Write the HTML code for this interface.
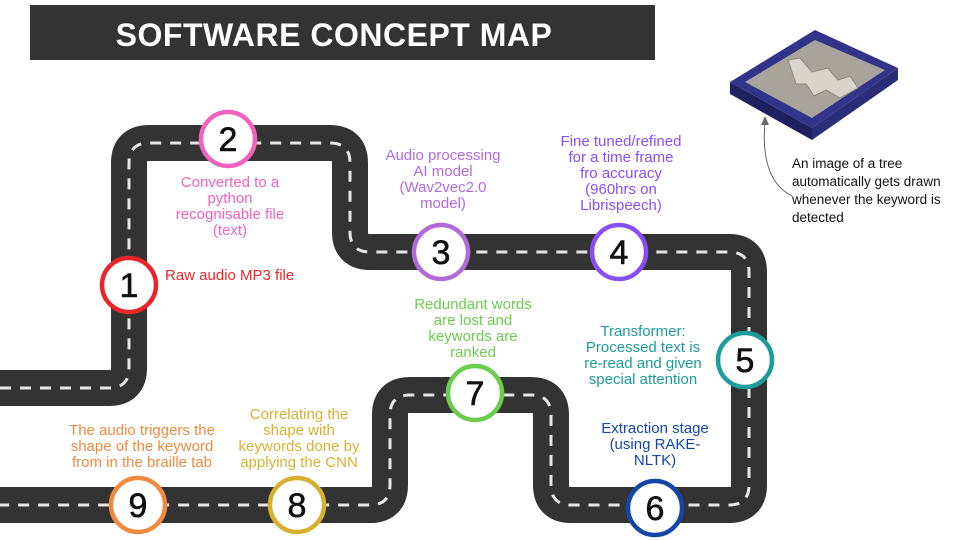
<!DOCTYPE html>
<html><head><meta charset="utf-8"><style>
html,body{margin:0;padding:0;background:#fff;}
svg{display:block;}
text{font-family:"Liberation Sans",sans-serif;}
</style></head><body>
<svg width="960" height="540" viewBox="0 0 960 540" xmlns="http://www.w3.org/2000/svg">
<rect x="30" y="5" width="625" height="55" fill="#333333"/>
<text x="334" y="46" text-anchor="middle" font-size="32" font-weight="bold" fill="#fff" letter-spacing="0.5">SOFTWARE CONCEPT MAP</text>

<path d="M0 388 H109 Q129 388 129 368 V163 Q129 143 149 143 H330 Q350 143 350 163 V232 Q350 252 370 252 H729 Q749 252 749 272 V485 Q749 505 729 505 H571 Q551 505 551 485 V415 Q551 395 531 395 H410 Q390 395 390 415 V485 Q390 505 370 505 H0" fill="none" stroke="#333333" stroke-width="36"/>
<path d="M0 388 H109 Q129 388 129 368 V163 Q129 143 149 143 H330 Q350 143 350 163 V232 Q350 252 370 252 H729 Q749 252 749 272 V485 Q749 505 729 505 H571 Q551 505 551 485 V415 Q551 395 531 395 H410 Q390 395 390 415 V485 Q390 505 370 505 H0" fill="none" stroke="#e6e6e6" stroke-width="3" stroke-dasharray="11 9"/>

<g stroke-width="4.5" fill="#fff">
<circle cx="129" cy="285" r="27" stroke="#e8262a"/>
<circle cx="228" cy="139" r="27" stroke="#f062c0"/>
<circle cx="441" cy="252" r="27" stroke="#b36ad8"/>
<circle cx="619" cy="252" r="27" stroke="#8a4ff0"/>
<circle cx="745" cy="360" r="27" stroke="#1c9c9c"/>
<circle cx="655" cy="508" r="27" stroke="#1446a8"/>
<circle cx="475" cy="393" r="27" stroke="#6ccc4c"/>
<circle cx="297" cy="505" r="27" stroke="#d8b030"/>
<circle cx="138" cy="505" r="27" stroke="#f08a40"/>
</g>
<g font-size="34" text-anchor="middle" fill="#111" stroke="#111" stroke-width="0.6">
<text x="129" y="297">1</text><text x="228" y="151">2</text><text x="441" y="264">3</text>
<text x="619" y="264">4</text><text x="745" y="372">5</text><text x="655" y="520">6</text>
<text x="475" y="405">7</text><text x="297" y="517">8</text><text x="138" y="517">9</text>
</g>

<g font-size="15" text-anchor="middle">
<text x="165" y="280" fill="#e8262a" text-anchor="start">Raw audio MP3 file</text>
<g fill="#f062c0"><text x="230" y="187">Converted to a</text><text x="230" y="203">python</text><text x="230" y="219">recognisable file</text><text x="230" y="235">(text)</text></g>
<g fill="#b36ad8"><text x="443" y="160">Audio processing</text><text x="443" y="176">AI model</text><text x="443" y="192">(Wav2vec2.0</text><text x="443" y="208">model)</text></g>
<g fill="#8a4ff0"><text x="621" y="146">Fine tuned/refined</text><text x="621" y="162">for a time frame</text><text x="621" y="178">fro accuracy</text><text x="621" y="194">(960hrs on</text><text x="621" y="210">Librispeech)</text></g>
<g fill="#6ccc4c"><text x="473" y="309">Redundant words</text><text x="473" y="325">are lost and</text><text x="473" y="341">keywords are</text><text x="473" y="357">ranked</text></g>
<g fill="#1c9c9c"><text x="643" y="336">Transformer:</text><text x="643" y="352">Processed text is</text><text x="643" y="368">re-read and given</text><text x="643" y="384">special attention</text></g>
<g fill="#1446a8"><text x="655" y="433">Extraction stage</text><text x="655" y="449">(using RAKE-</text><text x="655" y="465">NLTK)</text></g>
<g fill="#d8b030"><text x="299" y="419">Correlating the</text><text x="299" y="435">shape with</text><text x="299" y="451">keywords done by</text><text x="299" y="467">applying the CNN</text></g>
<g fill="#f08a40"><text x="142" y="435">The audio triggers the</text><text x="142" y="451">shape of the keyword</text><text x="142" y="467">from in the braille tab</text></g>
</g>

<!-- tile image -->
<polygon points="730,82 812,128 812,140 730,94" fill="#1e2060"/>
<polygon points="812,128 898,68 898,80 812,140" fill="#2a2d78"/>
<polygon points="815,30 898,68 812,128 730,82" fill="#32348a"/>
<polygon points="815,40 885,70 812,118 745,82" fill="#a8a49c"/>
<polygon points="788,60 800,58 812,72 828,68 838,80 850,76 858,88 840,98 826,90 814,96 806,84 796,84" fill="#d8d4cc" stroke="#8a867e" stroke-width="1"/>

<path d="M792 196 Q760 180 765 122" fill="none" stroke="#666" stroke-width="1"/>
<polygon points="765,116 761,125 769,125" fill="#666"/>
<g font-size="13.5" fill="#111">
<text x="792" y="168">An image of a tree</text>
<text x="792" y="186">automatically gets drawn</text>
<text x="792" y="204">whenever the keyword is</text>
<text x="792" y="222">detected</text>
</g>
</svg>
</body></html>
